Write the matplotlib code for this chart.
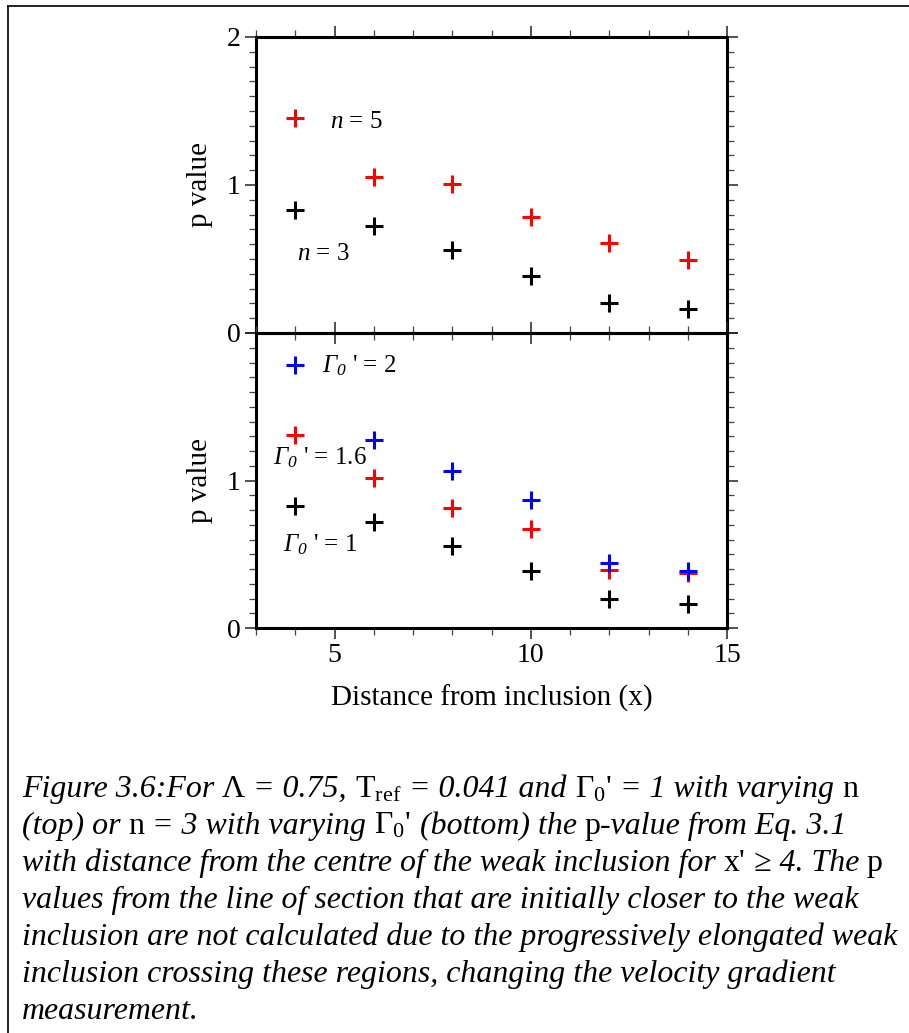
import matplotlib
matplotlib.use("Agg")
import matplotlib.pyplot as plt
from matplotlib.ticker import MultipleLocator
from matplotlib.lines import Line2D
from matplotlib.transforms import IdentityTransform

plt.rcParams['font.family'] = ['Liberation Serif', 'DejaVu Serif']
plt.rcParams['mathtext.fontset'] = 'custom'
plt.rcParams['mathtext.rm'] = 'Liberation Serif'
plt.rcParams['mathtext.it'] = 'Liberation Serif:italic'
# mathtext keeps Greek capitals upright in \mathit, so borrow \mathsf for italic Gamma
plt.rcParams['mathtext.sf'] = 'Liberation Serif:italic'

# data
distance = [4, 6, 8, 10, 12, 14]
p_n3 = [0.83, 0.72, 0.56, 0.385, 0.20, 0.165]
p_n5 = [1.45, 1.055, 1.01, 0.785, 0.605, 0.495]
p_g1 = [0.83, 0.717, 0.557, 0.386, 0.196, 0.164]
p_g16 = [1.31, 1.014, 0.813, 0.671, 0.393, 0.37]
p_g2 = [1.78, 1.276, 1.064, 0.865, 0.443, 0.386]

x_ticks = [5, 10, 15]
y_ticks = [0, 1, 2]

caption_lines = [
    [("Figure 3.6:For ", "italic"), ("Λ", "normal"), (" = 0.75, ", "italic"),
     (r"T$_{\mathrm{ref}}$", "normal"), (" = 0.041 and ", "italic"),
     (r"$\mathrm{\Gamma_0}$'", "normal"), (" = 1 with varying ", "italic"), ("n", "normal")],
    [("(top) or ", "italic"), ("n", "normal"), (" = 3 with varying ", "italic"),
     (r"$\mathrm{\Gamma_0}$'", "normal"), (" (bottom) the ", "italic"), ("p", "normal"),
     ("-value from Eq. 3.1", "italic")],
    [("with distance from the centre of the weak inclusion for ", "italic"),
     ("x'", "normal"), (" ≥ 4. The ", "italic"), ("p", "normal")],
    [("values from the line of section that are initially closer to the weak", "italic")],
    [("inclusion are not calculated due to the progressively elongated weak", "italic")],
    [("inclusion crossing these regions, changing the velocity gradient", "italic")],
    [("measurement.", "italic")],
]

W, H = 909, 1033
fig = plt.figure(figsize=(W / 100, H / 100), dpi=100)


def px_axes(left, top, right, bottom):
    return fig.add_axes([left / W, 1 - bottom / H, (right - left) / W, (bottom - top) / H])


ax_top = px_axes(256, 37, 727, 333)
ax_bot = px_axes(256, 333, 727, 628)

for ax in (ax_top, ax_bot):
    ax.set_facecolor('none')
    ax.set_xlim(3, 15)
    ax.set_ylim(0, 2)
    ax.set_xticks(x_ticks)
    ax.xaxis.set_minor_locator(MultipleLocator(1))
    ax.yaxis.set_minor_locator(MultipleLocator(0.1))
    ax.tick_params(which='both', direction='out', top=True, right=True)
    ax.tick_params(which='major', length=8, width=1.1, color='#222222', labelsize=20, pad=3)
    ax.tick_params(which='minor', length=5, width=0.9, color='#444444')
    for sp in ax.spines.values():
        sp.set_linewidth(2.2)
    ax.set_ylabel('p value', fontsize=21, labelpad=10)

ax_top.set_yticks(y_ticks)
ax_top.tick_params(labelbottom=False)
ax_bot.set_yticks(y_ticks)
ax_bot.set_yticklabels(['0', '1', ''])
ax_bot.set_xlabel('Distance from inclusion (x)', fontsize=21, labelpad=12)

mk = dict(ls='none', marker='+', ms=13, mew=2.2)
ax_top.plot(distance, p_n3, color='black', **mk)
ax_top.plot(distance, p_n5, color='#ff0000', **mk)
ax_bot.plot(distance, p_g1, color='black', **mk)
ax_bot.plot(distance, p_g16, color='#ff0000', **mk)
ax_bot.plot(distance, p_g2, color='#0000ff', **mk)

ax_top.text(4.88, 1.385, r'$n$ = 5', fontsize=18, va='baseline')
ax_top.text(4.04, 0.493, r'$n$ = 3', fontsize=18, va='baseline')
ax_bot.text(4.67, 1.733, r"$\mathsf{\Gamma_0}$ ' = 2", fontsize=18, va='baseline')
ax_bot.text(3.43, 1.11, r"$\mathsf{\Gamma_0}$ ' = 1.6", fontsize=18, va='baseline')
ax_bot.text(3.69, 0.52, r"$\mathsf{\Gamma_0}$ ' = 1", fontsize=18, va='baseline')

# frame lines (top and left only, as in the scan)
fig.add_artist(Line2D([8, W], [H - 6, H - 6], transform=IdentityTransform(), color='#111111', lw=1.3))
fig.add_artist(Line2D([8, 8], [0, H - 6], transform=IdentityTransform(), color='#111111', lw=1.3))

# caption with mixed italic/upright runs
renderer = fig.canvas.get_renderer()


def text_width(txt, style, size):
    t = fig.text(0, 0, txt, fontsize=size, fontstyle=style)
    w = t.get_window_extent(renderer).width
    t.remove()
    return w


base = 20
w5 = text_width(caption_lines[4][0][0], 'italic', base)
cap_size = base * 875 / w5

space_w = {st: text_width('a a', st, cap_size) - text_width('aa', st, cap_size)
           for st in ('italic', 'normal')}

x0, y0, dy = 22, 797, 37
for i, runs in enumerate(caption_lines):
    x = x0
    for txt, st in runs:
        lead = len(txt) - len(txt.lstrip(' '))
        trail = len(txt) - len(txt.rstrip(' '))
        x += lead * space_w[st]
        t = fig.text(x, H - (y0 + i * dy), txt.strip(' '), transform=IdentityTransform(),
                     fontsize=cap_size, fontstyle=st, va='baseline')
        x += t.get_window_extent(renderer).width + trail * space_w[st]

fig.savefig('out.png', dpi=100)
